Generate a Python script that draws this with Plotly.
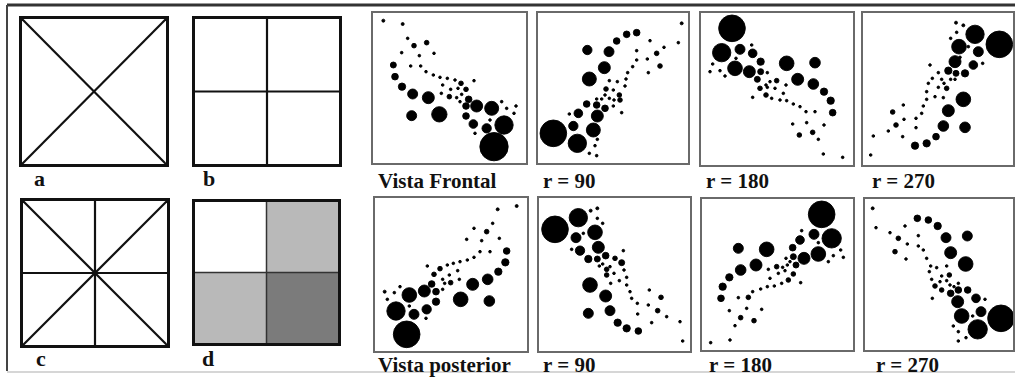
import plotly.graph_objects as go

W, H = 1015, 378

# ---------------- scatter panel data (panel units) ----------------
front_x = [70,128,143,162,200,125,178,222,100,152,182,105,198,220,240,262,285,342,303,126,248,272,294,318,158,205,244,268,290,305,326,300,350,395,318,425,440,468,462,155,238,318,340,432,380,390,345,402]
front_y = [62,72,115,137,128,158,167,160,195,198,198,230,215,225,232,235,240,242,250,260,255,268,265,268,282,293,280,290,293,283,298,305,318,325,318,305,325,318,340,347,343,348,372,375,385,360,400,440]
front_s = [9,9,8,14,14,8,8,8,18,8,8,20,8,8,8,8,8,8,14,22,8,8,8,14,30,36,8,14,8,8,20,8,36,42,20,8,8,8,8,30,46,20,26,55,28,8,8,85]

r90a_x = [965,955,830,800,770,682,747,870,912,890,830,862,900,830,733,818,803,865,688,798,748,772,795,738,760,778,735,748,710,725,762,780,680,710,735,760,655,712,785,628,640,700,580,652,712,705,688,710]
r90a_y = [70,128,98,103,123,150,155,122,142,160,152,177,198,180,203,200,218,218,237,237,242,245,258,267,270,285,285,295,297,297,300,300,312,315,325,318,340,348,338,342,378,390,400,430,418,437,460,467]
r90a_s = [9,8,20,20,20,28,30,8,8,14,8,8,14,8,36,8,8,8,42,8,8,8,8,14,8,14,8,8,8,8,8,14,20,20,20,8,26,36,8,8,28,42,80,55,8,8,8,8]

r180a_x = [156,125,180,215,218,165,208,242,242,98,90,120,135,168,262,232,270,290,258,320,405,353,400,240,262,285,258,275,300,310,318,218,432,452,458,320,340,360,378,405,338,380,432,358,398,415,430,488]
r180a_y = [85,158,148,135,160,205,215,185,215,192,215,212,228,175,218,238,245,242,255,190,188,238,252,265,262,265,285,295,300,280,255,292,275,302,338,302,312,320,335,335,372,368,375,405,397,418,462,472]
r180a_s = [80,55,30,8,26,44,36,22,18,8,8,8,8,8,8,18,8,14,8,44,32,36,32,14,8,8,14,8,8,8,8,8,22,22,20,8,8,8,8,8,8,8,8,14,14,8,8,8]

r270a_x = [828,850,830,885,958,812,837,865,895,840,825,880,908,750,805,828,855,775,757,785,812,825,792,800,745,775,740,765,790,740,850,730,670,805,725,638,672,708,648,790,855,708,625,580,668,768,740,705,572]
r270a_y = [68,76,97,103,133,115,140,140,155,172,185,195,190,195,212,220,220,218,235,238,238,238,250,265,250,262,275,290,293,298,298,318,315,332,340,336,358,355,375,378,382,383,393,408,410,410,430,437,465]
r270a_s = [9,9,8,55,80,8,44,8,30,8,36,26,8,8,22,18,22,8,8,8,8,8,8,14,8,8,8,8,8,8,44,8,8,36,8,14,8,8,14,32,32,8,8,8,8,20,22,22,8]

post_x = [470,413,398,342,380,418,320,365,440,360,390,342,322,300,280,262,436,202,240,293,415,222,268,248,298,383,272,254,215,338,120,248,193,228,74,103,148,82,302,388,228,108,200,148,162,198,140]
post_y = [48,58,100,115,125,145,148,152,183,185,185,202,210,215,220,225,217,228,236,242,245,253,255,268,268,268,278,280,282,283,290,298,303,305,305,308,315,328,328,333,335,363,358,348,373,385,433]
post_s = [9,9,8,8,14,8,8,8,20,8,8,8,8,8,8,8,22,8,14,8,22,14,8,8,8,32,14,8,20,36,8,8,36,20,9,8,44,8,44,32,22,55,28,8,30,8,80]

r90b_x = [712,692,585,655,712,728,705,648,670,715,660,635,790,685,712,737,765,728,718,750,785,740,792,762,740,800,752,778,690,800,810,868,737,903,815,832,865,750,685,893,833,920,773,800,875,835,960,968]
r90b_y = [55,62,118,83,85,100,127,143,130,172,182,178,182,207,207,197,205,222,228,230,218,238,240,250,255,262,280,272,285,285,305,300,318,322,325,340,345,362,370,362,372,380,398,415,398,423,395,453]
r90b_s = [9,9,80,55,8,8,44,30,8,36,28,8,8,22,18,20,14,8,8,8,18,14,8,8,14,8,8,8,44,8,8,8,36,14,8,8,8,30,30,14,8,8,22,22,8,20,8,8]

r180b_x = [425,455,402,365,360,415,338,175,260,415,372,340,318,482,490,460,445,228,182,348,330,322,290,308,315,265,148,340,295,270,325,305,362,283,262,242,218,128,205,175,123,200,245,148,182,222,165,150,92]
r180b_y = [73,145,133,122,150,158,173,175,178,192,205,200,205,180,202,197,215,225,240,225,215,225,230,232,242,238,262,252,250,265,270,280,278,288,290,297,305,290,322,323,325,355,358,362,383,392,407,450,458]
r180b_s = [80,58,30,8,26,8,20,30,44,44,36,18,8,8,8,8,8,36,32,18,8,8,14,8,8,8,22,14,8,8,14,8,8,8,8,8,8,22,14,8,20,8,8,8,14,14,8,8,8]

r270b_x = [578,588,712,745,773,675,630,655,715,798,862,682,715,645,812,730,678,740,857,752,770,748,800,808,755,785,780,800,765,810,822,835,785,812,835,863,757,833,888,915,903,845,963,878,893,820,835,858,835]
r270b_y = [55,113,85,90,108,108,128,145,137,143,138,162,168,185,188,180,207,205,222,228,233,245,228,255,268,258,275,272,288,285,290,280,300,310,300,300,325,335,325,328,365,378,385,378,418,408,425,443,453]
r270b_s = [9,8,20,20,22,8,8,14,8,30,30,8,8,14,36,8,8,8,44,8,8,8,8,14,8,8,8,8,14,8,8,8,14,20,20,20,8,36,26,8,30,44,80,8,58,8,8,8,8]

panel_labels = ["Vista Frontal", "r = 90", "r = 180", "r = 270",
                "Vista posterior", "r = 90", "r = 180", "r = 270"]

# ---------------- diagram data (unit squares a-d) ----------------
diag_a_x = [0, 1, None, 0, 1]
diag_a_y = [0, 1, None, 1, 0]
cross_x = [0.5, 0.5, None, 0, 1]
cross_y = [0, 1, None, 0.5, 0.5]
star_x = diag_a_x + [None] + cross_x
star_y = diag_a_y + [None] + cross_y
shade_z = [[1, 2], [0, 1]]          # bottom row, top row
shade_levels = ["#ffffff", "#b9b9b9", "#7b7b7b"]
square_labels = ["a", "b", "c", "d"]

# ---------------- layout geometry (pixels) ----------------
# scatter panels: (offset x, offset y, x-range, y-range) in panel units (1 px = 3 units)
panel_geo = [
    (360, 0, (40, 497), (40, 490)),
    (360, 0, (535, 985), (40, 490)),
    (680, 0, (63, 518), (40, 495)),
    (680, 0, (550, 1000), (40, 495)),
    (360, 190, (45, 500), (25, 483)),
    (360, 190, (538, 990), (25, 483)),
    (680, 190, (65, 518), (27, 480)),
    (680, 190, (555, 1000), (27, 480)),
]
panel_label_pos = [(376, 181), (541, 181), (704, 181), (870, 181),
                   (376, 365), (541, 365), (707, 365), (874, 365)]
square_box = [(22, 166, 19, 164), (195, 339, 19, 164),
              (23, 167, 201, 345), (195, 338, 202, 343)]
square_label_pos = [(32, 178), (201, 178), (34, 358), (200, 358)]

panels = [(front_x, front_y, front_s), (r90a_x, r90a_y, r90a_s),
          (r180a_x, r180a_y, r180a_s), (r270a_x, r270a_y, r270a_s),
          (post_x, post_y, post_s), (r90b_x, r90b_y, r90b_s),
          (r180b_x, r180b_y, r180b_s), (r270b_x, r270b_y, r270b_s)]

fig = go.Figure()
layout = {}
annotations = []
ax = 0


def add_axes(idx, x0, x1, y0, y1, xr, yr, lw, lc):
    xa = "xaxis" if idx == 1 else f"xaxis{idx}"
    ya = "yaxis" if idx == 1 else f"yaxis{idx}"
    common = dict(showgrid=False, zeroline=False, showticklabels=False, ticks="",
                  showline=True, mirror=True, linewidth=lw, linecolor=lc, fixedrange=True)
    layout[xa] = dict(domain=[x0 / W, x1 / W], range=list(xr),
                      anchor=f"y{idx}" if idx > 1 else "y", **common)
    layout[ya] = dict(domain=[1 - y1 / H, 1 - y0 / H], range=list(yr),
                      anchor=f"x{idx}" if idx > 1 else "x", **common)
    return ("x" if idx == 1 else f"x{idx}", "y" if idx == 1 else f"y{idx}")


# diagram squares
for k, (x0, x1, y0, y1) in enumerate(square_box):
    ax += 1
    xref, yref = add_axes(ax, x0, x1, y0, y1, (0, 1), (0, 1), 2.6, "#111111")
    if k == 3:
        fig.add_trace(go.Heatmap(z=shade_z, x=[0.25, 0.75], y=[0.25, 0.75],
                                 zmin=0, zmax=2, showscale=False, hoverinfo="skip",
                                 colorscale=[[0, shade_levels[0]], [0.5, shade_levels[1]], [1, shade_levels[2]]],
                                 xaxis=xref, yaxis=yref))
        fig.add_trace(go.Scatter(x=cross_x, y=cross_y, mode="lines",
                                 line=dict(color="#333333", width=1.5), hoverinfo="skip",
                                 xaxis=xref, yaxis=yref, showlegend=False))
    else:
        lx, ly = [(diag_a_x, diag_a_y), (cross_x, cross_y), (star_x, star_y)][k]
        fig.add_trace(go.Scatter(x=lx, y=ly, mode="lines",
                                 line=dict(color="#111111", width=2.2), hoverinfo="skip",
                                 xaxis=xref, yaxis=yref, showlegend=False))
    lx_, ly_ = square_label_pos[k]
    annotations.append(dict(text=f"<b>{square_labels[k]}</b>", x=lx_ / W, y=1 - ly_ / H,
                            xref="paper", yref="paper", xanchor="left", yanchor="middle",
                            showarrow=False, font=dict(family="Liberation Serif", size=22, color="#111111")))

# scatter panels
for k, ((ox, oy, xr, yr), (px, py, ps)) in enumerate(zip(panel_geo, panels)):
    ax += 1
    x0, x1 = ox + xr[0] / 3, ox + xr[1] / 3
    y0, y1 = oy + yr[0] / 3, oy + yr[1] / 3
    xref, yref = add_axes(ax, x0, x1, y0, y1, xr, (yr[1], yr[0]), 1.5, "#6a6a6a")
    fig.add_trace(go.Scatter(x=px, y=py, mode="markers", cliponaxis=False,
                             marker=dict(size=ps, sizemode="diameter", sizeref=3, opacity=1,
                                         color="#000000", line=dict(width=0.9, color="#000000")),
                             hoverinfo="skip", showlegend=False, xaxis=xref, yaxis=yref))
    lx_, ly_ = panel_label_pos[k]
    annotations.append(dict(text=f"<b>{panel_labels[k]}</b>", x=lx_ / W, y=1 - ly_ / H,
                            xref="paper", yref="paper", xanchor="left", yanchor="middle",
                            showarrow=False, font=dict(family="Liberation Serif", size=21, color="#111111")))

shapes = [
    dict(type="line", xref="paper", yref="paper", x0=7 / W, x1=1, y0=1 - 5 / H, y1=1 - 5 / H,
         line=dict(color="#333333", width=3)),
    dict(type="line", xref="paper", yref="paper", x0=7 / W, x1=7 / W, y0=1 - 5 / H, y1=1 - 371 / H,
         line=dict(color="#444444", width=2)),
    dict(type="line", xref="paper", yref="paper", x0=7 / W, x1=1, y0=1 - 372 / H, y1=1 - 372 / H,
         line=dict(color="#c8c8c8", width=1.5)),
]

fig.update_layout(width=W, height=H, margin=dict(l=0, r=0, t=0, b=0), autosize=False,
                  paper_bgcolor="white", plot_bgcolor="white", showlegend=False,
                  annotations=annotations, shapes=shapes, **layout)

fig.write_html("out.html", config={"displayModeBar": False},
               post_script="document.body.style.margin='0';document.body.style.overflow='hidden';")
